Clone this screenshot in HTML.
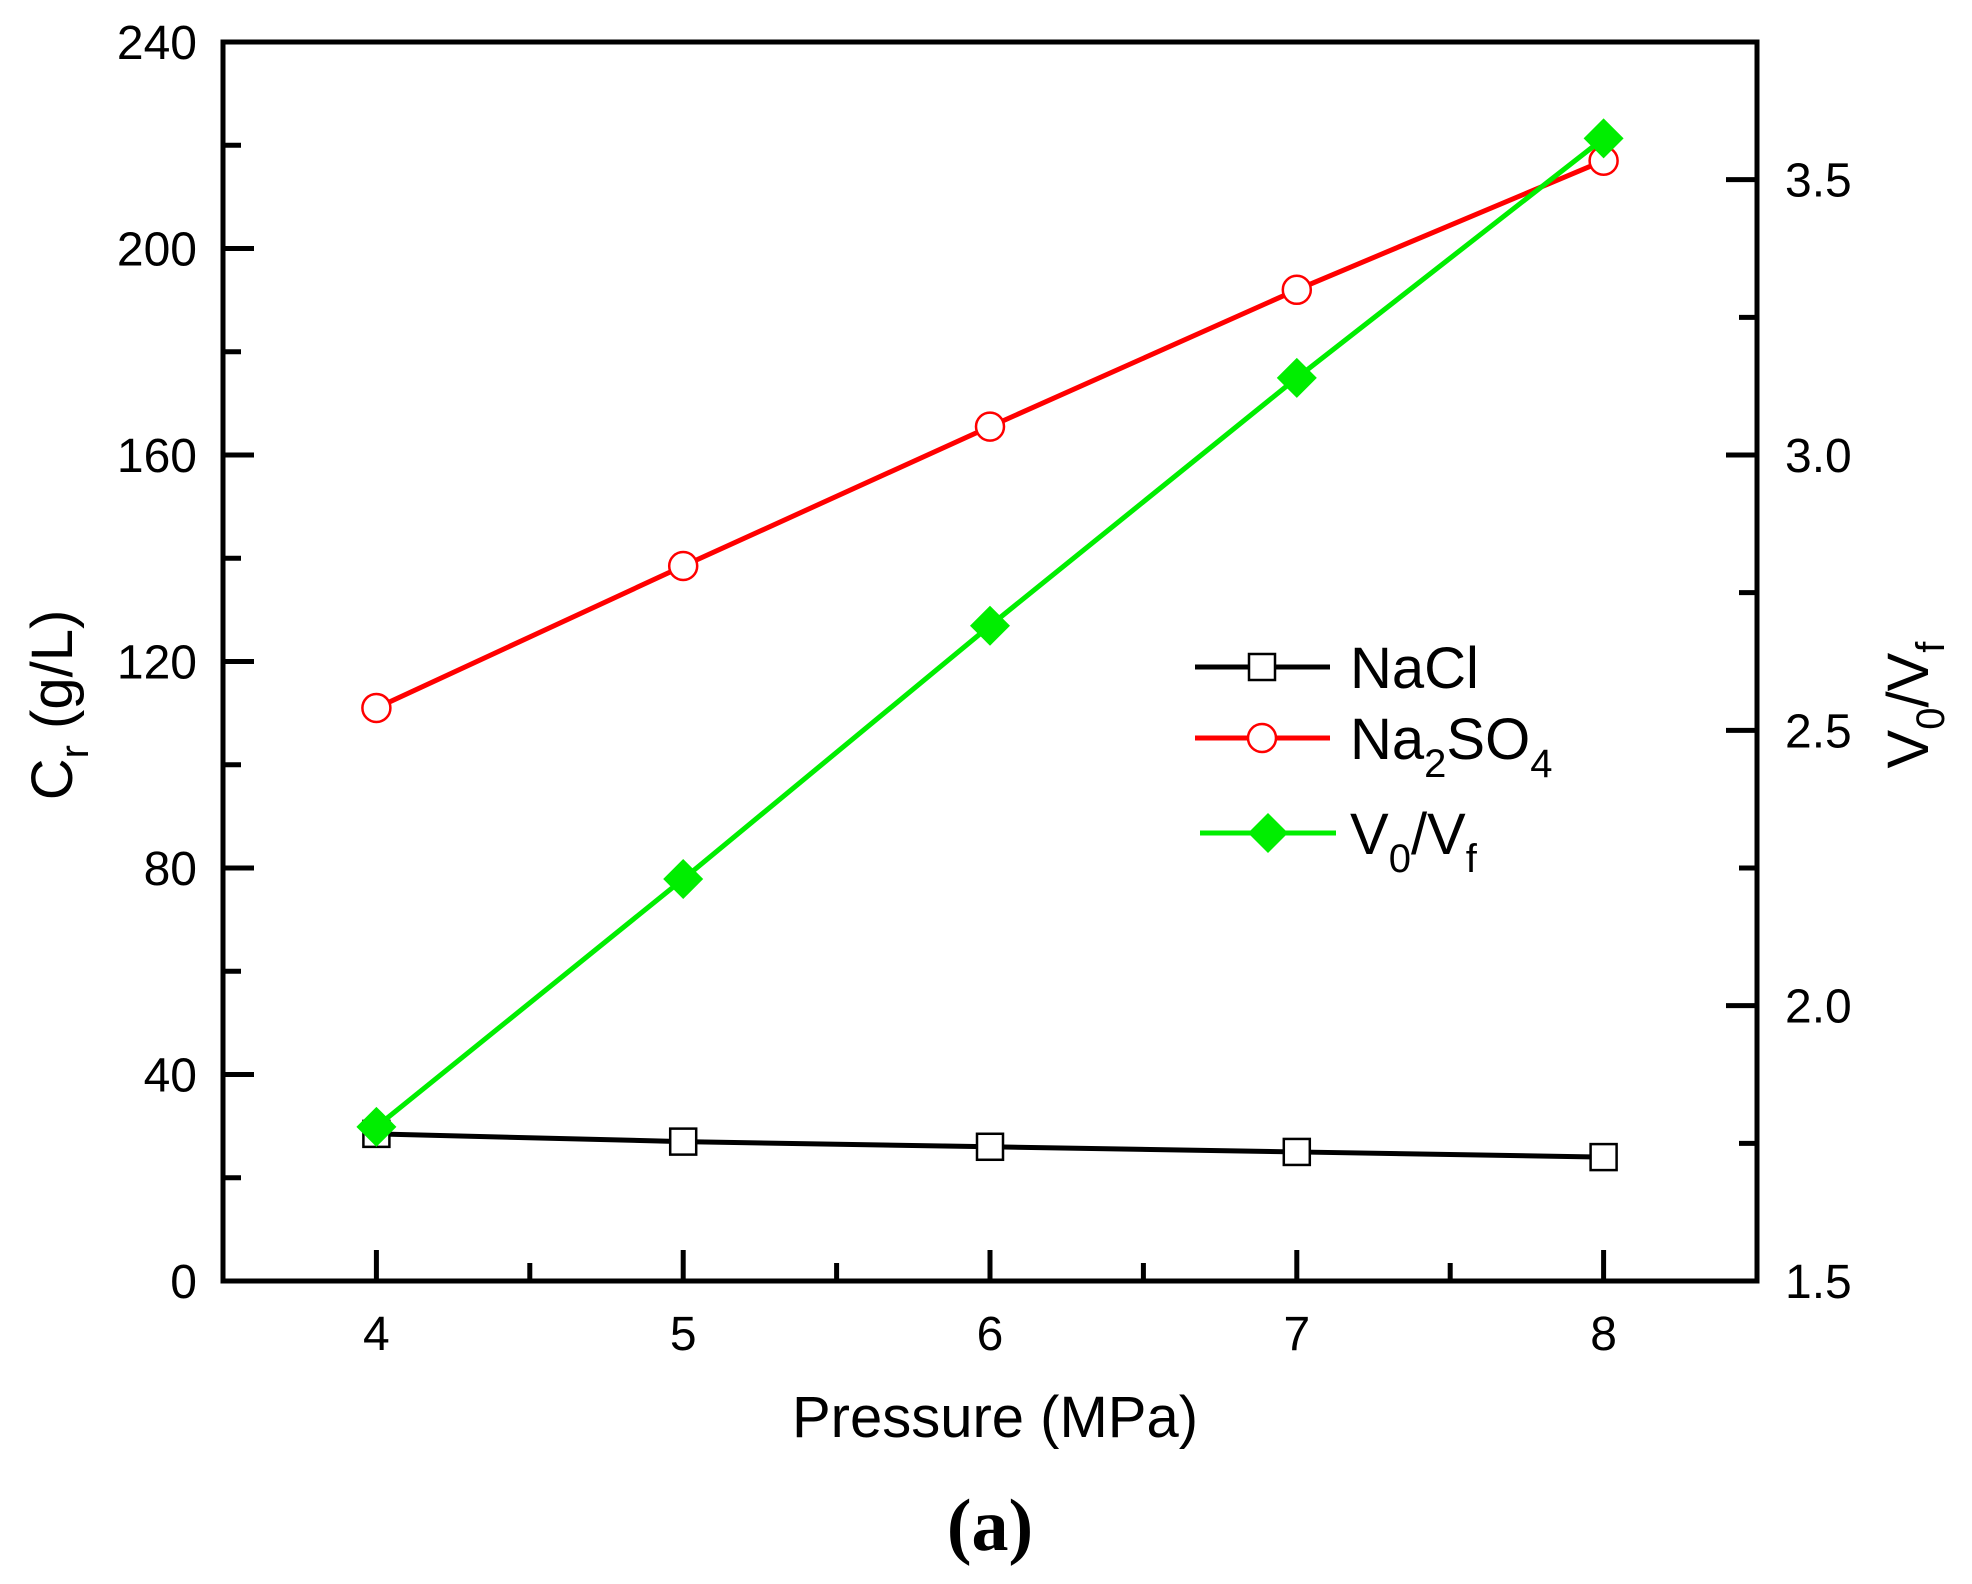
<!DOCTYPE html>
<html><head><meta charset="utf-8"><style>
html,body{margin:0;padding:0;background:#fff;}
svg{display:block;font-family:"Liberation Sans",Arial,sans-serif;}
</style></head><body>
<svg id="chart" width="1972" height="1584" viewBox="0 0 1972 1584">
<g id="marks"></g>
<g id="axes"></g>
<g>
  <line x1="1195" y1="667" x2="1330" y2="667" stroke="#000" stroke-width="5"/>
  <rect x="1249" y="654" width="26" height="26" fill="#fff" stroke="#000" stroke-width="2.5"/>
  <text x="1350" y="688" font-size="58">NaCl</text>
  <line x1="1195" y1="738" x2="1330" y2="738" stroke="#f00" stroke-width="5"/>
  <circle cx="1262" cy="738" r="14" fill="#fff" stroke="#f00" stroke-width="2.5"/>
  <text x="1350" y="759" font-size="58">Na<tspan font-size="40" dy="18">2</tspan><tspan dy="-18">SO</tspan><tspan font-size="40" dy="18">4</tspan></text>
  <line x1="1200" y1="833" x2="1336" y2="833" stroke="#00ee00" stroke-width="5"/>
  <polygon points="1268,813 1288,833 1268,853 1248,833" fill="#00ee00"/>
  <text x="1350" y="854" font-size="58">V<tspan font-size="40" dy="18">0</tspan><tspan dy="-18">/V</tspan><tspan font-size="40" dy="18">f</tspan></text>
</g>
<text transform="translate(72,705) rotate(-90)" text-anchor="middle" font-size="58">C<tspan font-size="40" dy="16">r</tspan><tspan dy="-16"> (g/L)</tspan></text>
<text transform="translate(1928,705) rotate(-90)" text-anchor="middle" font-size="58">V<tspan font-size="40" dy="16">0</tspan><tspan dy="-16">/V</tspan><tspan font-size="40" dy="16">f</tspan></text>
<text x="995" y="1437" text-anchor="middle" font-size="58">Pressure (MPa)</text>
<text x="990" y="1550" text-anchor="middle" font-size="74" font-weight="bold" font-family="Liberation Serif,serif">(a)</text>
</svg>
<script>
const pressures = [4, 5, 6, 7, 8];
const nacl = [28.5, 27, 26, 25, 24];
const na2so4 = [111, 138.5, 165.5, 192, 217];
const v0vf = [1.78, 2.23, 2.69, 3.14, 3.575];
const xTicks = [4, 5, 6, 7, 8];
const yTicks = [0, 40, 80, 120, 160, 200, 240];
const y2Ticks = ["1.5", "2.0", "2.5", "3.0", "3.5"];

const L = 223, R = 1757, T = 42, B = 1281;
const xs = v => L + (v - 3.5) / 5 * (R - L);
const ys = v => B - v / 240 * (B - T);
const y2s = v => B - (v - 1.5) / 2.25 * (B - T);
const NS = "http://www.w3.org/2000/svg";
const marks = document.getElementById('marks');
const axes = document.getElementById('axes');
function mk(tag, attrs, parent) {
  const e = document.createElementNS(NS, tag);
  for (const k in attrs) e.setAttribute(k, attrs[k]);
  parent.appendChild(e);
  return e;
}
function series(vals, scale, color, name, marker) {
  const pts = pressures.map((p, i) => xs(p) + ',' + scale(vals[i])).join(' ');
  const pl = mk('polyline', {points: pts, fill: 'none', stroke: color, 'stroke-width': 5}, marks);
  
  
  pressures.forEach((p, i) => {
    const x = xs(p), y = scale(vals[i]);
    let m;
    if (marker === 'square') m = mk('rect', {x: x - 13, y: y - 13, width: 26, height: 26, fill: '#fff', stroke: color, 'stroke-width': 2.5}, marks);
    else if (marker === 'circle') m = mk('circle', {cx: x, cy: y, r: 14, fill: '#fff', stroke: color, 'stroke-width': 2.5}, marks);
    else m = mk('polygon', {points: `${x},${y-20} ${x+20},${y} ${x},${y+20} ${x-20},${y}`, fill: color}, marks);
    
    
  });
}
series(nacl, ys, '#000', 'nacl', 'square');
series(na2so4, ys, '#f00', 'na2so4', 'circle');
series(v0vf, y2s, '#00ee00', 'v0vf', 'diamond');

const frame = mk('rect', {x: L, y: T, width: R - L, height: B - T, fill: 'none', stroke: '#000', 'stroke-width': 5}, axes);


xTicks.forEach(v => {
  const x = xs(v);
  mk('line', {x1: x, y1: B, x2: x, y2: B - 31, stroke: '#000', 'stroke-width': 5}, axes);
  const t = mk('text', {x: x, y: 1350, 'text-anchor': 'middle', 'font-size': 48}, axes);
  t.textContent = v;
  
  
  if (v < 8) { const xm = xs(v + 0.5); mk('line', {x1: xm, y1: B, x2: xm, y2: B - 18, stroke: '#000', 'stroke-width': 5}, axes); }
});
yTicks.forEach(v => {
  const y = ys(v);
  mk('line', {x1: L, y1: y, x2: L + 31, y2: y, stroke: '#000', 'stroke-width': 5}, axes);
  const t = mk('text', {x: 197, y: y + 17, 'text-anchor': 'end', 'font-size': 48}, axes);
  t.textContent = v;
  
  
  if (v < 240) { const ym = ys(v + 20); mk('line', {x1: L, y1: ym, x2: L + 18, y2: ym, stroke: '#000', 'stroke-width': 5}, axes); }
});
y2Ticks.forEach(s => {
  const v = parseFloat(s), y = y2s(v);
  mk('line', {x1: R, y1: y, x2: R - 31, y2: y, stroke: '#000', 'stroke-width': 5}, axes);
  const t = mk('text', {x: 1785, y: y + 17, 'font-size': 48}, axes);
  t.textContent = s;
  
  
  const ym = y2s(v + 0.25); mk('line', {x1: R, y1: ym, x2: R - 18, y2: ym, stroke: '#000', 'stroke-width': 5}, axes);
});
</script>
</body></html>
